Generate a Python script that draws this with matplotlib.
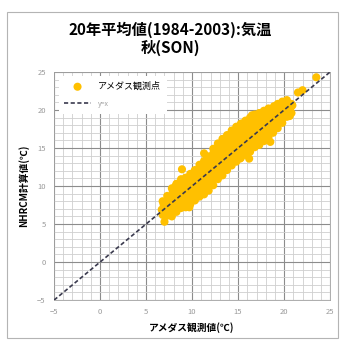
import matplotlib
matplotlib.use('Agg')
import matplotlib.pyplot as plt
from matplotlib.patches import Rectangle
from matplotlib.ticker import MultipleLocator

plt.rcParams['font.family'] = ['Noto Sans CJK JP', 'DejaVu Sans']

title = '20年平均値(1984-2003):気温\n秋(SON)'
x_label = 'アメダス観測値(℃)'
y_label = 'NHRCM計算値(℃)'
legend_labels = ['アメダス観測点', 'y=x']

amedas = [
    6.8, 6.7, 6.9, 6.8,
    7.3, 7.2, 7.4, 7.3, 7.3,
    7.8, 7.7, 7.9, 7.8, 7.8, 7.9, 7.8,
    8.3, 8.2, 8.4, 8.3, 8.3, 8.2, 8.3,
    8.8, 8.9, 8.8, 8.7, 8.8, 8.9, 8.8,
    9.3, 9.2, 9.3, 9.4, 9.3, 9.2, 9.3,
    9.8, 9.9, 9.8, 9.7, 9.8, 9.9, 9.8,
    10.3, 10.2, 10.3, 10.4, 10.3, 10.2, 10.3,
    10.8, 10.9, 10.8, 10.7, 10.8, 10.9, 10.8,
    11.3, 11.2, 11.3, 11.4, 11.3, 11.2, 11.3, 11.3,
    11.8, 11.9, 11.8, 11.7, 11.8, 11.9, 11.8, 11.8,
    12.3, 12.2, 12.3, 12.4, 12.3, 12.2, 12.3, 12.3,
    12.8, 12.9, 12.8, 12.7, 12.8, 12.9, 12.8, 12.8,
    13.3, 13.2, 13.3, 13.4, 13.3, 13.2, 13.3, 13.3,
    13.8, 13.9, 13.8, 13.7, 13.8, 13.9, 13.8, 13.8,
    14.3, 14.2, 14.3, 14.4, 14.3, 14.2, 14.3, 14.3,
    14.8, 14.9, 14.8, 14.7, 14.8, 14.9, 14.8, 14.8,
    15.3, 15.2, 15.3, 15.4, 15.3, 15.2, 15.3, 15.3,
    15.8, 15.9, 15.8, 15.7, 15.8, 15.9, 15.8, 15.8,
    16.3, 16.2, 16.3, 16.4, 16.3, 16.2, 16.3, 16.3,
    16.8, 16.9, 16.8, 16.7, 16.8, 16.9, 16.8, 16.8,
    17.3, 17.2, 17.3, 17.4, 17.3, 17.2, 17.3,
    17.8, 17.9, 17.8, 17.7, 17.8, 17.9, 17.8,
    18.3, 18.2, 18.3, 18.4, 18.3, 18.2, 18.3,
    18.8, 18.9, 18.8, 18.7, 18.8, 18.9,
    19.3, 19.2, 19.3, 19.4, 19.3, 19.3,
    19.8, 19.9, 19.8, 19.7, 19.8,
    20.3, 20.2, 20.3, 20.3,
    20.8, 20.7, 20.8,
    # scattered stations
    7.0, 8.9, 11.3, 13.5, 15.4, 16.5, 16.2, 15.2, 20.6, 21.5, 22.0, 23.5, 9.7, 18.5, 20.9,
]
nhrcm = [
    6.2, 6.9, 7.6, 8.0,
    6.1, 6.8, 7.4, 8.1, 8.7,
    6.0, 6.6, 7.3, 8.0, 8.7, 9.3, 9.7,
    6.6, 7.3, 8.0, 8.7, 9.4, 10.0, 10.3,
    7.1, 7.8, 8.5, 9.2, 9.9, 10.5, 10.9,
    7.2, 7.9, 8.6, 9.3, 10.0, 10.6, 11.1,
    7.6, 8.3, 9.0, 9.7, 10.4, 11.0, 11.6,
    8.1, 8.8, 9.5, 10.2, 10.9, 11.5, 12.1,
    8.6, 9.3, 10.0, 10.7, 11.4, 12.1, 12.8,
    8.9, 9.6, 10.3, 11.0, 11.7, 12.4, 13.0, 13.3,
    9.4, 10.1, 10.8, 11.5, 12.2, 12.9, 13.5, 13.9,
    10.1, 10.8, 11.5, 12.2, 12.9, 13.6, 14.3, 14.9,
    10.9, 11.6, 12.3, 13.0, 13.7, 14.4, 15.0, 15.6,
    11.4, 12.1, 12.8, 13.5, 14.2, 14.9, 15.6, 16.2,
    12.1, 12.8, 13.5, 14.2, 14.9, 15.6, 16.2, 16.7,
    12.7, 13.4, 14.1, 14.8, 15.5, 16.2, 16.8, 17.3,
    13.2, 13.9, 14.6, 15.3, 16.0, 16.7, 17.3, 17.8,
    13.7, 14.4, 15.1, 15.8, 16.5, 17.2, 17.8, 18.2,
    14.1, 14.8, 15.5, 16.2, 16.9, 17.6, 18.2, 18.6,
    14.5, 15.2, 15.9, 16.6, 17.3, 18.0, 18.6, 19.0,
    15.1, 15.8, 16.5, 17.2, 17.9, 18.6, 19.2, 19.4,
    15.4, 16.1, 16.8, 17.5, 18.2, 18.9, 19.6,
    15.9, 16.6, 17.3, 18.0, 18.7, 19.4, 19.9,
    16.4, 17.1, 17.8, 18.5, 19.2, 19.9, 20.2,
    17.0, 17.7, 18.4, 19.1, 19.8, 20.5,
    17.6, 18.3, 19.0, 19.7, 20.4, 20.8,
    18.3, 19.0, 19.7, 20.4, 21.1,
    19.1, 19.8, 20.5, 21.3,
    19.6, 20.3, 20.8,
    5.3, 12.2, 14.3, 16.2, 18.2, 19.3, 13.6, 13.6, 19.2, 22.3, 22.6, 24.3, 7.2, 15.8, 20.6,
]
ref_line = [-5, 25]

fig = plt.figure(figsize=(3.4, 3.41), dpi=100)
fig.patches.append(Rectangle((7 / 340, 3 / 341), 331 / 340, 326 / 341,
                             transform=fig.transFigure, fill=False,
                             edgecolor='#b4b4b4', lw=0.8))
fig.text(0.5, 0.886, title, ha='center', va='center', fontsize=11,
         fontweight='bold', linespacing=1.2)

ax = fig.add_axes([0.159, 0.12, 0.812, 0.669])
ax.scatter(amedas, nhrcm, s=34, color='#FFC000', edgecolors='none',
           label=legend_labels[0], zorder=3)
ax.plot(ref_line, ref_line, color='#3a3a4e', lw=1.2, dashes=(2.5, 1.5),
        label=legend_labels[1], zorder=4)

ax.set_xlim(-5, 25)
ax.set_ylim(-5, 25)
ax.xaxis.set_major_locator(MultipleLocator(5))
ax.yaxis.set_major_locator(MultipleLocator(5))
ax.xaxis.set_minor_locator(MultipleLocator(1))
ax.yaxis.set_minor_locator(MultipleLocator(1))
ax.grid(which='minor', color='#cfcfcf', lw=0.6)
ax.grid(which='major', color='#8c8c8c', lw=0.8)
ax.set_axisbelow(True)
ax.tick_params(which='both', length=0, labelsize=5.5, labelcolor='#9a9a9a', pad=6)
for s in ax.spines.values():
    s.set_color('#a0a0a0')
    s.set_linewidth(0.6)

ax.set_xlabel(x_label, fontsize=7, fontweight='bold', labelpad=4)
ax.set_ylabel(y_label, fontsize=7, fontweight='bold', labelpad=6)

leg = ax.legend(loc='upper left', fontsize=6.5, frameon=True, framealpha=1,
                edgecolor='none', fancybox=False, borderpad=0.6,
                handlelength=3, markerscale=1.0, labelspacing=1.0)
leg.get_texts()[1].set_color('#a0a0a0')
leg.get_texts()[1].set_fontsize(5)

fig.savefig('out.png', dpi=100)
